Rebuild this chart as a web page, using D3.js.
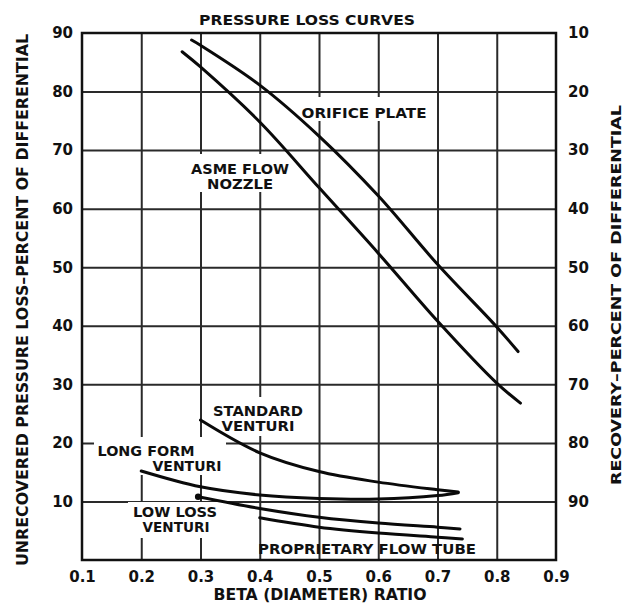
<!DOCTYPE html>
<html>
<head>
<meta charset="utf-8">
<script src="https://cdn.jsdelivr.net/npm/d3@7"></script>
<style>
  body { margin: 0; background: #fff; }
  text { font-family: "DejaVu Sans", sans-serif; font-weight: bold; fill: #111; }
</style>
</head>
<body>
<div id="canvas"></div>
<script>
width = 625;
height = 604;

// tick values
var betaTicks = [0.1, 0.2, 0.3, 0.4, 0.5, 0.6, 0.7, 0.8, 0.9];
var lossTicks = [10, 20, 30, 40, 50, 60, 70, 80, 90];
var recoveryTicks = [10, 20, 30, 40, 50, 60, 70, 80, 90];

// curves: [beta, unrecovered loss %]
var orificePlate = [[0.285, 88.8], [0.3, 87.9], [0.4, 81.1], [0.5, 72.4], [0.6, 62.2], [0.7, 50.5], [0.8, 39.8], [0.836, 35.6]];
var asmeNozzle = [[0.269, 86.8], [0.3, 84.2], [0.4, 74.8], [0.5, 63.6], [0.6, 52.4], [0.7, 40.8], [0.8, 30.2], [0.84, 26.8]];
var standardVenturi = [[0.3, 23.9], [0.4, 18.3], [0.5, 15.1], [0.6, 13.3], [0.7, 12.0], [0.735, 11.6]];
var longFormVenturi = [[0.2, 15.2], [0.3, 12.5], [0.4, 11.1], [0.5, 10.5], [0.6, 10.4], [0.7, 11.0], [0.735, 11.5]];
var lowLossVenturi = [[0.296, 10.8], [0.4, 8.8], [0.5, 7.3], [0.6, 6.3], [0.7, 5.6], [0.738, 5.3]];
var proprietaryTube = [[0.4, 7.2], [0.5, 5.6], [0.6, 4.6], [0.7, 3.9], [0.742, 3.6]];

var plotLeft = 82, plotRight = 556, plotTop = 33, plotBottom = 560;

var svg = d3.select("#canvas").append("svg")
  .attr("width", width)
  .attr("height", height)
  .style("background-color", "white");

var x = d3.scaleLinear().domain([0.1, 0.9]).range([plotLeft, plotRight]);
var y = d3.scaleLinear().domain([0, 90]).range([plotBottom, plotTop]);
// right axis is recovery = 100 - loss
var y2 = d3.scaleLinear().domain([100, 10]).range([plotBottom, plotTop]);

// grid
var gridX = svg.append("g")
  .attr("transform", "translate(0," + plotBottom + ")")
  .call(d3.axisBottom(x).tickValues(betaTicks.slice(1, -1)).tickSize(-(plotBottom - plotTop)).tickFormat(""));
var gridY = svg.append("g")
  .attr("transform", "translate(" + plotLeft + ",0)")
  .call(d3.axisLeft(y).tickValues(lossTicks.slice(0, -1)).tickSize(-(plotRight - plotLeft)).tickFormat(""));
svg.selectAll(".domain").remove();
svg.selectAll(".tick line").attr("stroke", "#2a2a2a").attr("stroke-width", 2);

// label backgrounds knock out grid lines
var labels = [
  { lines: ["ORIFICE PLATE"], x: 364, y: 118, w: 125, box: [298, 97, 134, 24] },
  { lines: ["ASME FLOW", "NOZZLE"], x: 240, y: 174, w: 98, w2: 66, box: [186, 154, 108, 38] },
  { lines: ["STANDARD", "VENTURI"], x: 258, y: 416, w: 90, w2: 73, box: [208, 397, 100, 39] },
  { lines: ["LONG FORM", "VENTURI"], x: 146, y: 456, w: 97, w2: 69, x2: 187, box: [94, 437, 132, 38] },
  { lines: ["LOW LOSS", "VENTURI"], x: 175, y: 517, w: 84, w2: 67, x2: 176, box: [128, 502, 94, 36] },
  { lines: ["PROPRIETARY FLOW TUBE"], x: 367, y: 554, w: 218, box: null }
];

svg.selectAll(".labelBox")
  .data(labels.filter(function (d) { return d.box; }))
  .join("rect")
  .attr("class", "labelBox")
  .attr("x", function (d) { return d.box[0]; })
  .attr("y", function (d) { return d.box[1]; })
  .attr("width", function (d) { return d.box[2]; })
  .attr("height", function (d) { return d.box[3]; })
  .attr("fill", "white");

// frame
svg.append("rect")
  .attr("x", plotLeft).attr("y", plotTop)
  .attr("width", plotRight - plotLeft).attr("height", plotBottom - plotTop)
  .attr("fill", "none").attr("stroke", "#111").attr("stroke-width", 2.5);

// curves
var line = d3.line()
  .x(function (d) { return x(d[0]); })
  .y(function (d) { return y(d[1]); })
  .curve(d3.curveCatmullRom.alpha(0.5));

var curves = [orificePlate, asmeNozzle, standardVenturi, longFormVenturi, lowLossVenturi, proprietaryTube];
svg.selectAll(".curve")
  .data(curves)
  .join("path")
  .attr("class", "curve")
  .attr("d", line)
  .attr("fill", "none")
  .attr("stroke", "#0a0a0a")
  .attr("stroke-width", 3)
  .attr("stroke-linecap", "round");

// dot at start of low loss venturi
svg.append("circle")
  .attr("cx", x(lowLossVenturi[0][0]))
  .attr("cy", y(lowLossVenturi[0][1]))
  .attr("r", 3.2)
  .attr("fill", "#0a0a0a");

// curve labels
labels.forEach(function (d) {
  svg.append("text")
    .attr("x", d.x).attr("y", d.y)
    .attr("text-anchor", "middle")
    .attr("font-size", 14.5)
    .attr("textLength", d.w)
    .attr("lengthAdjust", "spacingAndGlyphs")
    .text(d.lines[0]);
  if (d.lines.length > 1) {
    svg.append("text")
      .attr("x", d.x2 || d.x).attr("y", d.y + 15)
      .attr("text-anchor", "middle")
      .attr("font-size", 14.5)
      .attr("textLength", d.w2)
      .attr("lengthAdjust", "spacingAndGlyphs")
      .text(d.lines[1]);
  }
});

// tick labels
var xAxis = svg.append("g")
  .attr("transform", "translate(0," + plotBottom + ")")
  .call(d3.axisBottom(x).tickValues(betaTicks).tickSize(0).tickPadding(11).tickFormat(d3.format(".1f")));
var yAxis = svg.append("g")
  .attr("transform", "translate(" + plotLeft + ",0)")
  .call(d3.axisLeft(y).tickValues(lossTicks).tickSize(0).tickPadding(9));
var yAxisRight = svg.append("g")
  .attr("transform", "translate(" + plotRight + ",0)")
  .call(d3.axisRight(y2).tickValues(recoveryTicks).tickSize(0).tickPadding(12));
[xAxis, yAxis, yAxisRight].forEach(function (g) {
  g.select(".domain").remove();
  g.selectAll("text")
    .attr("font-size", 15)
    .attr("font-family", "DejaVu Sans, sans-serif")
    .attr("font-weight", "bold")
    .attr("fill", "#111");
});

// titles
svg.append("text")
  .attr("x", 307).attr("y", 25)
  .attr("text-anchor", "middle")
  .attr("font-size", 14.5)
  .attr("textLength", 216)
  .attr("lengthAdjust", "spacingAndGlyphs")
  .text("PRESSURE LOSS CURVES");

svg.append("text")
  .attr("x", 320).attr("y", 600)
  .attr("text-anchor", "middle")
  .attr("font-size", 15)
  .attr("textLength", 213)
  .attr("lengthAdjust", "spacingAndGlyphs")
  .text("BETA (DIAMETER) RATIO");

svg.append("text")
  .attr("transform", "translate(28,300) rotate(-90)")
  .attr("text-anchor", "middle")
  .attr("font-size", 16)
  .attr("textLength", 532)
  .attr("lengthAdjust", "spacingAndGlyphs")
  .text("UNRECOVERED PRESSURE LOSS\u2013PERCENT OF DIFFERENTIAL");

svg.append("text")
  .attr("transform", "translate(621,295) rotate(-90)")
  .attr("text-anchor", "middle")
  .attr("font-size", 13.5)
  .attr("textLength", 380)
  .attr("lengthAdjust", "spacingAndGlyphs")
  .text("RECOVERY\u2013PERCENT OF DIFFERENTIAL");
</script>
</body>
</html>
